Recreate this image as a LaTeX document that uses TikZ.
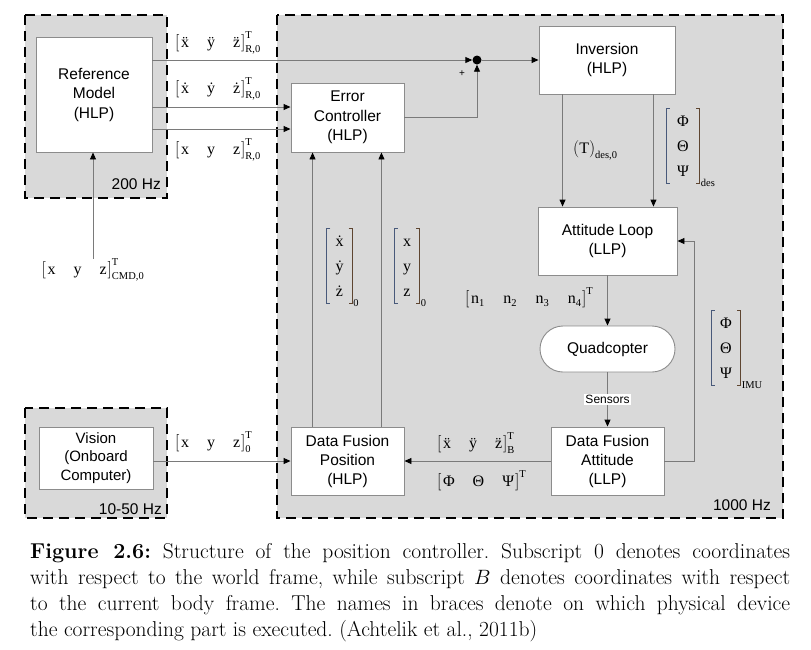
\documentclass[tikz,border=0pt]{standalone}
\usepackage{fontspec}
\usetikzlibrary{arrows.meta,calc}
\newfontfamily\arial{Liberation Sans}
\newfontfamily\tms{Liberation Serif}
\newcommand{\sst}{\fontsize{10.5}{10.5}\selectfont}
\newcommand{\rv}[3]{$\left[\hbox{\rule[-4.5pt]{0pt}{16.5pt}\hskip1.5pt#1\hskip1pt}\right]^{\hbox{\sst #2}}_{\hbox{\sst #3}}$}
\newcommand{\gp}{\hskip 18pt}
\newcommand{\ngp}{\hskip 19pt}
\newcommand{\xdd}{x^^^^0308}
\newcommand{\ydd}{y^^^^0308}
\newcommand{\zdd}{z^^^^0308}
\newcommand{\xd}{x^^^^0307}
\newcommand{\yd}{y^^^^0307}
\newcommand{\zd}{z^^^^0307}
\definecolor{bggray}{HTML}{D9D9D9}
\definecolor{lngray}{HTML}{7A7A7A}
\definecolor{bxgray}{HTML}{8C8C8C}
\definecolor{brkblue}{HTML}{48597A}
\definecolor{brkbrown}{HTML}{5E4530}
\tikzset{
  zone/.style={draw=black, fill=bggray, line width=2.2pt, dash pattern=on 10pt off 6pt},
  blk/.style={draw=bxgray, fill=white, line width=0.9pt, align=center, inner sep=1pt,
    font=\arial\fontsize{15.5}{19.5}\selectfont},
  arr/.style={draw=lngray, line width=0.9pt, -{Triangle[length=7pt,width=6pt,color=black]}},
  rlab/.style={inner sep=0pt, font=\tms\fontsize{16}{18}\selectfont},
  clab/.style={inner xsep=0pt, inner ysep=0pt, font=\tms\fontsize{16}{25}\selectfont},
  brkL/.style={draw=brkblue, line width=1pt},
  brkR/.style={draw=brkbrown, line width=1pt},
  hz/.style={inner sep=0pt, font=\arial\fontsize{15.5}{17}\selectfont, anchor=base east}
}
% column vector: name, centre, three entries, subscript, width
\newcommand{\colvec}[7]{%
  \node[clab, minimum width=#7] (#1) at (#2) {\begin{tabular}{@{}c@{}}#3\\#4\\#5\end{tabular}};
  \draw[brkL] ([xshift=3.5pt]#1.north west) -- (#1.north west) -- (#1.south west) -- ([xshift=3.5pt]#1.south west);
  \draw[brkR] ([xshift=-3.5pt]#1.north east) -- (#1.north east) -- (#1.south east) -- ([xshift=-3.5pt]#1.south east);
  \node[inner sep=0pt, font=\tms\sst, anchor=base west] (#1s) at ([xshift=1pt,yshift=-3pt]#1.south east) {#6};
}
\begin{document}
\begin{tikzpicture}[x=1pt,y=-1pt]
\useasboundingbox (0,0) rectangle (811,649);
% zones
\draw[zone] (25,15) rectangle (167,198);
\draw[zone] (277,15) rectangle (783,518);
\draw[zone] (25,408) rectangle (167,518);
\node[hz] (hz1) at (161,189) {200 Hz};
\node[hz] (hz2) at (771,510) {1000 Hz};
\node[hz] (hz3) at (162,514) {10-50 Hz};
% blocks
\node[blk, minimum width=116pt, minimum height=115pt] (ref) at (94,94.5) {Reference\\Model\\(HLP)};
\node[blk, minimum width=113pt, minimum height=69pt] (ec) at (347.5,117.5) {Error\\Controller\\(HLP)};
\node[blk, minimum width=136pt, minimum height=68pt] (inv) at (607,60) {Inversion\\(HLP)};
\node[blk, minimum width=139pt, minimum height=68pt] (al) at (607.5,241) {Attitude Loop\\(LLP)};
\node[blk, minimum width=135pt, minimum height=46pt, rounded corners=23pt] (q) at (607.5,349) {Quadcopter};
\node[blk, minimum width=113pt, minimum height=68pt, font=\arial\fontsize{15.5}{19}\selectfont] (dfa) at (607.5,461) {Data Fusion\\Attitude\\(LLP)};
\node[blk, minimum width=113pt, minimum height=68pt, font=\arial\fontsize{15.5}{19}\selectfont] (dfp) at (347.5,461) {Data Fusion\\Position\\(HLP)};
\node[blk, minimum width=114pt, minimum height=62pt, font=\arial\fontsize{15}{18.5}\selectfont] (vis) at (96,458) {Vision\\(Onboard\\Computer)};
% junction
\node[circle, fill=black, inner sep=0pt, minimum size=9pt] (jn) at (477,60) {};
\node[inner sep=0pt, font=\arial\fontsize{10}{10}\selectfont] (plus) at (462,74) {+};
% row-vector labels
\node[rlab, anchor=west] (lxdd) at (175,43) {\rv{\xdd\gp\ydd\gp\zdd}{T}{R,0}};
\node[rlab, anchor=west] (lxd) at (175,89) {\rv{\xd\gp\yd\gp\zd}{T}{R,0}};
\node[rlab, anchor=west] (lx) at (175,150) {\rv{x\gp y\gp z}{T}{R,0}};
\node[rlab] (lcmd) at (93,270) {\rv{x\gp y\gp z}{T}{CMD,0}};
\node[rlab, anchor=west] (lvis) at (175,442) {\rv{x\gp y\gp z}{T}{0}};
\node[rlab, anchor=west] (lT) at (573,150) {$\left(\hbox{\rule[-4pt]{0pt}{15pt}T}\right)_{\hbox{\sst des,0}}$};
\node[rlab, anchor=west] (ln) at (465,298) {\rv{n\raisebox{-3.5pt}{\sst 1}\ngp n\raisebox{-3.5pt}{\sst 2}\ngp n\raisebox{-3.5pt}{\sst 3}\ngp n\raisebox{-3.5pt}{\sst 4}}{T}{}};
\node[rlab, anchor=west] (lxddB) at (437,443) {\rv{\xdd\gp\ydd\gp\zdd}{T}{B}};
\node[rlab, anchor=west] (lphiT) at (437,481) {\rv{Φ\gp Θ\gp Ψ}{T}{}};
% column-vector labels
\colvec{lphides}{683,146}{Φ}{Θ}{Ψ}{des}{33pt}
\colvec{lxdcol}{339.5,266}{\xd}{\yd}{\zd}{0}{25pt}
\colvec{lxcol}{407,266}{x}{y}{z}{0}{25pt}
\colvec{lphiimu}{726,348}{Φ}{Θ}{Ψ}{IMU}{29pt}
% coordinates
\coordinate (ec1) at ([yshift=10.5pt]ec.west);
\coordinate (ec2) at ([yshift=-11.5pt]ec.west);
\coordinate (i1) at ([xshift=24pt]inv.south west);
\coordinate (i2) at ([xshift=-22pt]inv.south east);
\coordinate (p1) at ([xshift=22pt]dfp.north west);
\coordinate (p2) at ([xshift=-23pt]dfp.north east);
% connectors
\draw[arr] (ref.east |- jn) -- (jn.west);
\draw[arr] (ref.east |- ec1) -- (ec1);
\draw[arr] (ref.east |- ec2) -- (ec2);
\draw[arr] (ec.east) -| (jn.south);
\draw[arr] (jn.east) -- (inv.west);
\draw[arr] (lcmd.north) -- (lcmd.north |- ref.south);
\draw[arr] (i1) -- (i1 |- al.north);
\draw[arr] (i2) -- (i2 |- al.north);
\draw[arr] (al.south) -- (q.north);
\draw[arr] (q.south) -- node[fill=white, inner sep=1.5pt, font=\arial\fontsize{12}{14}\selectfont] (sens) {Sensors} (dfa.north);
\draw[arr] (dfa.east) -- ++(30,0) |- (al.east);
\draw[arr] (dfa.west) -- (dfp.east);
\draw[arr] (vis.east |- dfp.west) -- (dfp.west);
\draw[arr] (p1) -- (p1 |- ec.south);
\draw[arr] (p2) -- (p2 |- ec.south);
% caption
\node[anchor=north west, inner sep=0pt, text width=760pt, align=justify,
  font=\fontsize{21.5}{26}\selectfont\frenchspacing] (cap) at (30,543)
  {\textbf{Figure 2.6:} Structure of the position controller. Subscript 0 denotes coordinates\linebreak
  with respect to the world frame, while subscript $B$ denotes coordinates with respect\linebreak
  to the current body frame. The names in braces denote on which physical device\linebreak
  the corresponding part is executed. (Achtelik et al., 2011b)};
\end{tikzpicture}
\end{document}
